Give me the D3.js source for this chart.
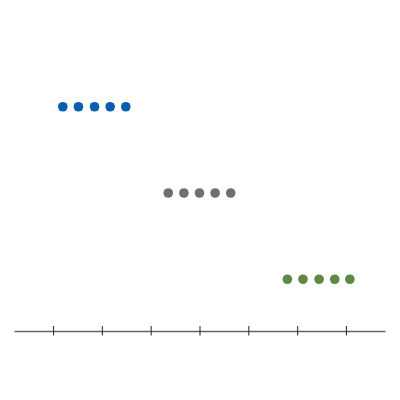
<!DOCTYPE html>
<html><head><meta charset="utf-8">
<script src="https://cdn.jsdelivr.net/npm/d3@7"></script>
<style>html,body{margin:0;padding:0;background:#fff;}</style>
</head><body>
<div id="chart"></div>
<script>
const rows = ["A", "B", "C"];
const rowLevels = [3, 2, 1];
const rowColors = ["#0a5eb0", "#6f6f6f", "#5b8a46"];
const blueValues = [1.2, 1.52, 1.85, 2.17, 2.49];
const grayValues = [3.36, 3.68, 4.0, 4.32, 4.64];
const greenValues = [5.8, 6.12, 6.45, 6.77, 7.08];
const tickValues = [1, 2, 3, 4, 5, 6, 7];

const series = [blueValues, grayValues, greenValues];

const W = 400, H = 400;
const svg = d3.select("#chart").append("svg").attr("width", W).attr("height", H);

const x = d3.scaleLinear().domain([0.2, 7.8]).range([14, 385]);
const y = d3.scaleLinear().domain([0.4, 3.6]).range([331, 55]);

const axis = d3.axisBottom(x).tickValues(tickValues).tickSize(0).tickFormat("");
const gAxis = svg.append("g").attr("transform", `translate(0,${y(0.4)})`).call(axis);
gAxis.select(".domain").attr("stroke", "#666").attr("stroke-width", 1.6);
gAxis.selectAll(".tick").append("line")
  .attr("y1", -5).attr("y2", 4.5)
  .attr("stroke", "#333").attr("stroke-width", 1.1);

rows.forEach((r, i) => {
  svg.append("g").selectAll("circle").data(series[i]).join("circle")
    .attr("cx", d => x(d))
    .attr("cy", y(rowLevels[i]))
    .attr("r", 4.8)
    .attr("fill", rowColors[i]);
});
</script>
</body></html>
